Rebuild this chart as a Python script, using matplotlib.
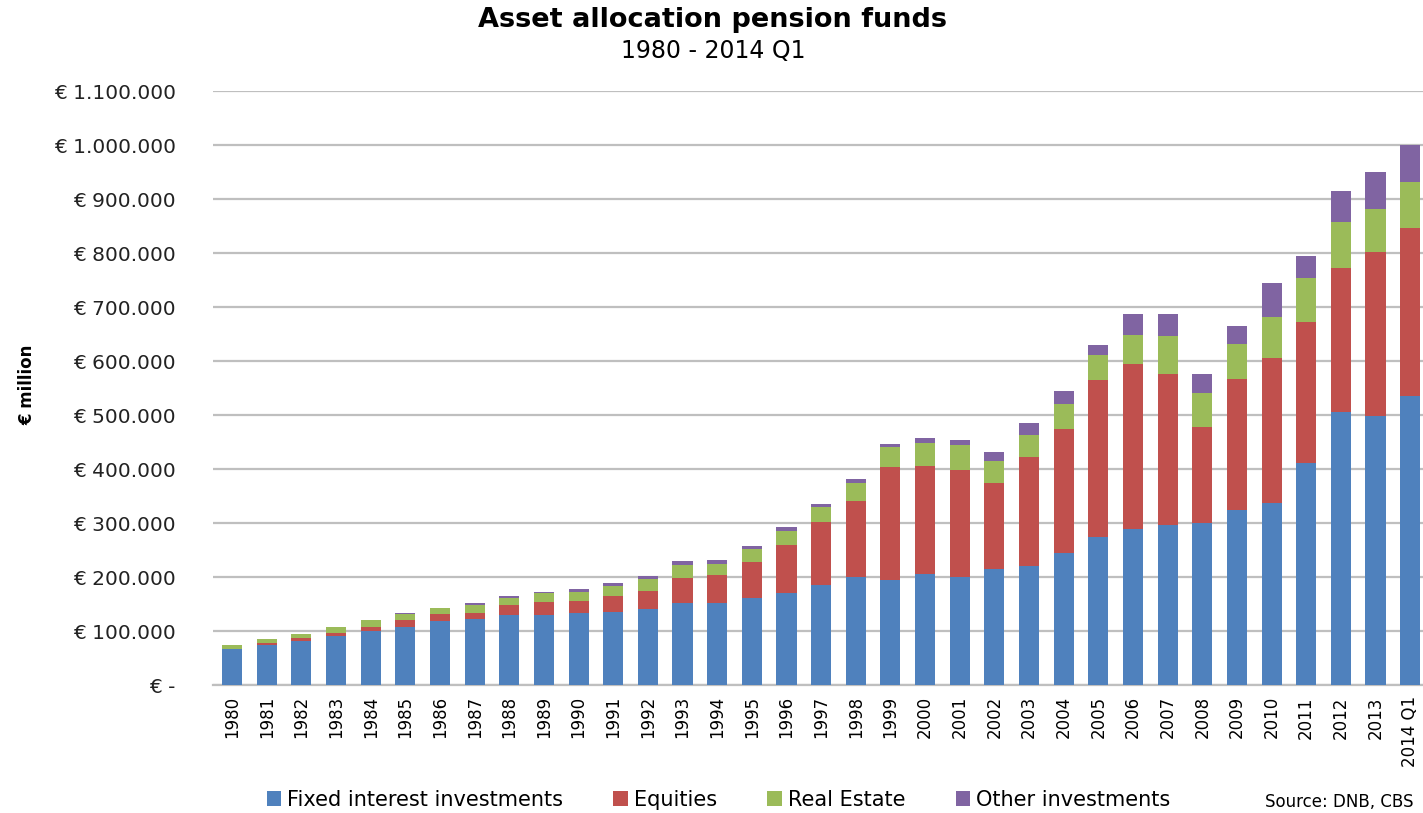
import numpy as np
import matplotlib.pyplot as plt
from matplotlib.ticker import FuncFormatter

# Datos (EUR million)
years = [str(y) for y in range(1980, 2014)] + ['2014 Q1']

fixed_interest = [66000, 75000, 82000, 91000, 100000, 108000, 119000, 122000, 130000, 130000,
                  133000, 136000, 141000, 151000, 152000, 161000, 170000, 185000, 200000, 195000,
                  206000, 200000, 214000, 221000, 245000, 275000, 289000, 296000, 300000, 325000,
                  338000, 412000, 505000, 499000, 535000]
equities = [1000, 2000, 5000, 5000, 7000, 12000, 12000, 12000, 18000, 23000,
            23000, 28000, 33000, 47000, 51000, 66000, 90000, 117000, 141000, 208000,
            200000, 199000, 161000, 202000, 230000, 289000, 305000, 280000, 177000, 241000,
            267000, 261000, 268000, 303000, 312000]
real_estate = [7000, 8000, 7000, 11000, 13000, 12000, 12000, 14000, 14000, 17000,
               16000, 20000, 22000, 25000, 22000, 24000, 26000, 27000, 33000, 37000,
               42000, 46000, 40000, 40000, 45000, 48000, 55000, 71000, 64000, 66000,
               77000, 80000, 84000, 80000, 84000]
other = [0, 0, 0, 0, 0, 500, 500, 3000, 2000, 3000,
         5000, 5000, 6000, 7000, 6000, 6000, 7000, 7000, 7000, 7000,
         9000, 9000, 17000, 22000, 24000, 18000, 38000, 40000, 35000, 33000,
         63000, 41000, 58000, 68000, 70000]

series = [
    ('Fixed interest investments', fixed_interest, '#4F81BD'),
    ('Equities', equities, '#C0504D'),
    ('Real Estate', real_estate, '#9BBB59'),
    ('Other investments', other, '#8064A2'),
]

fig = plt.figure(figsize=(14.23, 8.13), dpi=100)
ax = fig.add_axes([0.1497, 0.1574, 0.8503, 0.7306])

x = np.arange(len(years))
bottom = np.zeros(len(years))
for name, vals, col in series:
    vals = np.array(vals, dtype=float)
    ax.bar(x, vals, width=0.58, bottom=bottom, color=col, label=name, zorder=3)
    bottom += vals

# Ejes
ax.set_xlim(-0.55, 34.37)
ax.set_ylim(0, 1100000)
ax.set_yticks(np.arange(0, 1100001, 100000))


def eur(v, pos):
    if v == 0:
        return '€ -'
    return '€ ' + f'{int(v):,}'.replace(',', '.')


ax.yaxis.set_major_formatter(FuncFormatter(eur))
ax.grid(axis='y', color='#BFBFBF', linewidth=1.6, zorder=0)
for s in ['top', 'right', 'left']:
    ax.spines[s].set_visible(False)
ax.spines['bottom'].set_color('#BFBFBF')
ax.spines['bottom'].set_linewidth(1.6)
ax.tick_params(axis='y', length=0, pad=27, labelsize=14.5, labelcolor='#222222')
ax.tick_params(axis='x', length=0, pad=8)
ax.set_xticks(x)
ax.set_xticklabels(years, rotation=90, fontsize=12,
                   family=['Liberation Sans Narrow', 'DejaVu Sans'])

fig.text(0.019, 0.527, '€ million', rotation=90, fontsize=12, fontweight='bold',
         ha='center', va='center', family=['Liberation Sans Narrow', 'DejaVu Sans'])

# Titulos
fig.text(0.501, 0.975, 'Asset allocation pension funds', fontsize=19.5,
         fontweight='bold', ha='center', va='center')
fig.text(0.501, 0.937, '1980 - 2014 Q1', fontsize=17, ha='center', va='center')

fig.legend(loc='center', bbox_to_anchor=(0.505, 0.016), ncol=4, frameon=False,
           fontsize=15, handlelength=0.7, handleheight=0.7, handletextpad=0.3,
           columnspacing=2.4)
fig.text(0.993, 0.002, 'Source: DNB, CBS', fontsize=12, ha='right', va='bottom')

fig.savefig('out.png', dpi=100)
